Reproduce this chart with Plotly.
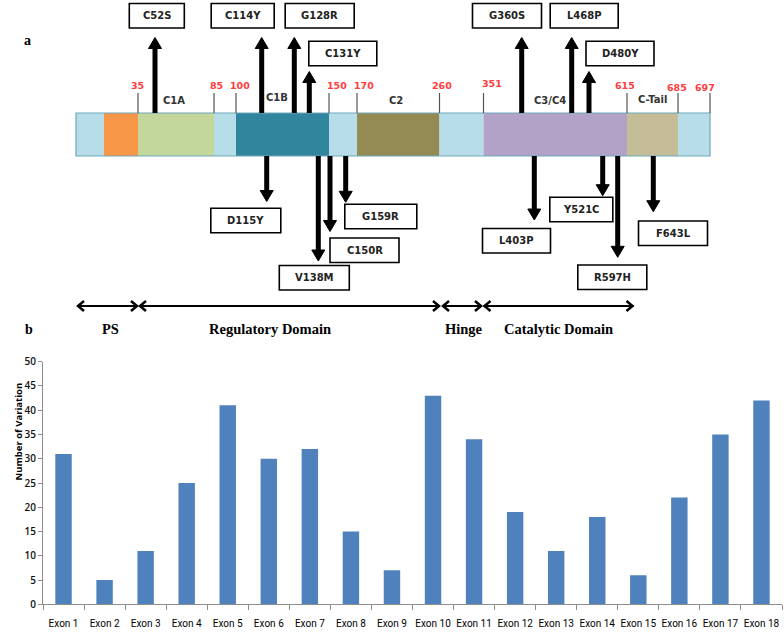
import numpy as np
import plotly.graph_objects as go

# ---------------- DATA ----------------
exons = [f"Exon {i}" for i in range(1, 19)]
variations = [31, 5, 11, 25, 41, 30, 32, 15, 7, 43, 34, 19, 11, 18, 6, 22, 35, 42]

boundary_residues = [35, 85, 100, 150, 170, 260, 351, 615, 685, 697]
domain_names = ["C1A", "C1B", "C2", "C3/C4", "C-Tail"]
region_names = ["PS", "Regulatory Domain", "Hinge", "Catalytic Domain"]

mut_up = ["C52S", "C114Y", "G128R", "C131Y", "G360S", "L468P", "D480Y"]
mut_down = ["D115Y", "V138M", "C150R", "G159R", "L403P", "Y521C", "R597H", "F643L"]

# ---------------- LAYOUT (schematic drawing, pixel-like units) ----------------
W, H = 784, 634
bar_top, bar_bot = 113, 156
# schematic x position of residue anchors (diagram is not drawn to scale)
anchor_res = [1, 16, 35, 85, 100, 150, 170, 260, 351, 615, 685, 697]
anchor_x = [76, 104, 138, 214, 236, 329, 357, 439.5, 483.5, 627, 678, 710]
seg_colors = ["#B7DEE8", "#F79646", "#C3D69B", "#B7DEE8", "#31859C", "#B7DEE8",
              "#948A54", "#B7DEE8", "#B3A2C7", "#C4BD97", "#B7DEE8"]
num_label_pos = {35: (137, 85), 85: (216.5, 85), 100: (240, 85), 150: (337, 85),
                 170: (364, 85), 260: (442, 85), 351: (492, 83), 615: (625, 85),
                 685: (677, 87), 697: (705, 87)}
domain_label_pos = {"C1A": (174, 100), "C1B": (277, 97), "C2": (396, 100),
                    "C3/C4": (550, 100), "C-Tail": (652, 99)}
region_spans_x = {"PS": (77, 138), "Regulatory Domain": (139, 440),
                  "Hinge": (442, 482), "Catalytic Domain": (483.5, 633.5)}
region_label_x = {"PS": 110, "Regulatory Domain": 270, "Hinge": 464,
                  "Catalytic Domain": 558}

# arrow x, arrow tip y, box centre x, box centre y, box width
up_layout = {
    "C52S": (155, 37.5, 156.8, 15.8, 55),
    "C114Y": (261.7, 37.5, 242.7, 15.8, 63),
    "G128R": (294.3, 37.5, 319.7, 15.8, 69),
    "C131Y": (309.3, 71.5, 342.8, 53.5, 68),
    "G360S": (521.7, 37.5, 507, 15.8, 69),
    "L468P": (571.7, 37.5, 584.2, 15.8, 68),
    "D480Y": (589, 71.5, 620, 53.5, 68),
}
down_layout = {
    "D115Y": (266.7, 201.5, 245.8, 220.5, 70),
    "V138M": (318.3, 261, 314.3, 277.7, 70),
    "C150R": (330, 231.5, 364.5, 250.2, 69),
    "G159R": (345.7, 202.3, 380.8, 216.5, 72),
    "L403P": (534.3, 220, 516.5, 240.8, 68),
    "Y521C": (602.7, 195.7, 581.3, 209.5, 63),
    "R597H": (617.7, 257.3, 612.3, 277.2, 69),
    "F643L": (653.3, 211.7, 673, 233.2, 69),
}
box_h = 24.5

shapes = []
annotations = []
REF = dict(xref="x2", yref="y2")

# protein bar segments
for i, col in enumerate(seg_colors):
    shapes.append(dict(type="rect", **REF, x0=anchor_x[i], x1=anchor_x[i + 1],
                       y0=bar_top, y1=bar_bot, fillcolor=col,
                       line=dict(width=0), layer="below"))
shapes.append(dict(type="rect", **REF, x0=anchor_x[0], x1=anchor_x[-1], y0=bar_top,
                   y1=bar_bot, line=dict(color="#6FA8BE", width=1.2),
                   fillcolor="rgba(0,0,0,0)"))
# boundary ticks and red numbers
for r in boundary_residues:
    bx = float(np.interp(r, anchor_res, anchor_x))
    shapes.append(dict(type="line", **REF, x0=bx, x1=bx, y0=93, y1=bar_top,
                       line=dict(color="#555555", width=1.2)))
    lx, ly = num_label_pos[r]
    annotations.append(dict(**REF, x=lx, y=ly, text=str(r), showarrow=False,
                            font=dict(family="DejaVu Sans", size=9.5, color="#FF3B3B",
                                      weight="bold")))
for name in domain_names:
    lx, ly = domain_label_pos[name]
    annotations.append(dict(**REF, x=lx, y=ly, text=name, showarrow=False,
                            font=dict(family="DejaVu Sans", size=10, color="#333333",
                                      weight="bold")))

shaft_w = 5
head_w, head_h = 13, 11


def box(name, cx, cy, w):
    shapes.append(dict(type="rect", **REF, x0=cx - w / 2, x1=cx + w / 2,
                       y0=cy - box_h / 2, y1=cy + box_h / 2, fillcolor="white",
                       line=dict(color="black", width=1.6)))
    annotations.append(dict(**REF, x=cx, y=cy, text=name, showarrow=False,
                            font=dict(family="DejaVu Sans", size=10, color="#222222",
                                      weight="bold")))


for name in mut_up:
    ax, tip, cx, cy, w = up_layout[name]
    shapes.append(dict(type="line", **REF, x0=ax, x1=ax, y0=bar_top, y1=tip + head_h - 1,
                       line=dict(color="black", width=shaft_w)))
    shapes.append(dict(type="path", **REF,
                       path=f"M {ax - head_w / 2},{tip + head_h} L {ax + head_w / 2},{tip + head_h} L {ax},{tip} Z",
                       fillcolor="black", line=dict(color="black", width=1)))
    box(name, cx, cy, w)

for name in mut_down:
    ax, tip, cx, cy, w = down_layout[name]
    shapes.append(dict(type="line", **REF, x0=ax, x1=ax, y0=bar_bot, y1=tip - head_h + 1,
                       line=dict(color="black", width=shaft_w)))
    shapes.append(dict(type="path", **REF,
                       path=f"M {ax - head_w / 2},{tip - head_h} L {ax + head_w / 2},{tip - head_h} L {ax},{tip} Z",
                       fillcolor="black", line=dict(color="black", width=1)))
    box(name, cx, cy, w)

# region double arrows
ry = 306
for name in region_names:
    x0, x1 = region_spans_x[name]
    shapes.append(dict(type="line", **REF, x0=x0, x1=x1, y0=ry, y1=ry,
                       line=dict(color="black", width=2)))
    shapes.append(dict(type="path", **REF,
                       path=f"M {x0 + 7},{ry - 5} L {x0 + 1},{ry} L {x0 + 7},{ry + 5}",
                       line=dict(color="black", width=2.5)))
    shapes.append(dict(type="path", **REF,
                       path=f"M {x1 - 7},{ry - 5} L {x1 - 1},{ry} L {x1 - 7},{ry + 5}",
                       line=dict(color="black", width=2.5)))
    annotations.append(dict(**REF, x=region_label_x[name], y=328.5, text=name,
                            showarrow=False,
                            font=dict(family="Liberation Serif", size=14.5, color="black",
                                      weight="bold")))

# panel letters
annotations.append(dict(**REF, x=27, y=40, text="a", showarrow=False,
                        font=dict(family="Liberation Serif", size=14, color="black",
                                  weight="bold")))
annotations.append(dict(**REF, x=29, y=329, text="b", showarrow=False,
                        font=dict(family="Liberation Serif", size=14, color="black",
                                  weight="bold")))
# y axis title
annotations.append(dict(xref="paper", yref="paper", x=9 / W, y=(H - 483) / H,
                        text="Number of Variation", textangle=-90, showarrow=False,
                        font=dict(family="Open Sans", size=9.5, color="black",
                                  weight="bold")))

fig = go.Figure()
fig.add_trace(go.Bar(x=exons, y=variations, marker=dict(color="#4F81BD", line=dict(width=0)),
                     xaxis="x", yaxis="y", showlegend=False, hoverinfo="x+y"))
# invisible trace for overlay axis
fig.add_trace(go.Scatter(x=[0, W], y=[0, H], mode="markers", marker=dict(opacity=0),
                         xaxis="x2", yaxis="y2", showlegend=False, hoverinfo="skip"))

fig.update_layout(
    width=W, height=H,
    margin=dict(l=0, r=0, t=0, b=0, pad=0, autoexpand=False),
    paper_bgcolor="white", plot_bgcolor="rgba(0,0,0,0)",
    bargap=0.6,
    xaxis=dict(domain=[43 / W, 782 / W], anchor="y", showline=True, linecolor="#8C8C8C",
               linewidth=1, ticks="outside", tickson="boundaries", ticklen=5,
               tickcolor="#8C8C8C", showgrid=False, tickangle=0, automargin=False,
               ticklabelstandoff=10,
               tickfont=dict(family="Roboto", size=10, color="black")),
    yaxis=dict(domain=[(H - 604.3) / H, (H - 361.7) / H], anchor="x", range=[0, 50],
               dtick=5, showline=True, linecolor="#8C8C8C", linewidth=1, ticks="outside",
               ticklen=4, tickcolor="#8C8C8C", showgrid=False, zeroline=False,
               automargin=False,
               tickfont=dict(family="Open Sans", size=10, color="#111111", weight=600)),
    xaxis2=dict(domain=[0, 1], range=[0, W], anchor="y2", visible=False, fixedrange=True,
                automargin=False),
    yaxis2=dict(domain=[0, 1], range=[H, 0], anchor="x2", visible=False, fixedrange=True,
                automargin=False),
    shapes=shapes,
    annotations=annotations,
)

fig.write_html(
    "out.html",
    config={"displayModeBar": False},
    post_script="document.body.style.margin='0';document.body.style.overflow='hidden';",
)
